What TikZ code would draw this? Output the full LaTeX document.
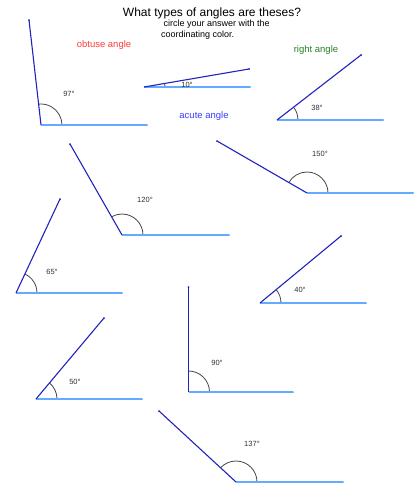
\documentclass[tikz,border=0pt]{standalone}
\usepackage{fontspec}
\setmainfont{Liberation Sans}
\definecolor{rayc}{RGB}{35,35,190}
\definecolor{basec}{RGB}{100,170,255}
\definecolor{arcc}{RGB}{70,70,70}
\definecolor{obtc}{RGB}{255,60,60}
\definecolor{acuc}{RGB}{60,60,255}
\definecolor{rigc}{RGB}{40,130,40}
\definecolor{labc}{RGB}{50,50,50}
\begin{document}
\begin{tikzpicture}[x=1pt,y=-1pt,
  rayline/.style={draw=rayc,line width=1.1pt},
  baseline/.style={draw=basec,line width=1.3pt},
  anglearc/.style={draw=arcc,line width=0.8pt},
  endmark/.style={circle,fill=#1,inner sep=0pt,minimum size=2pt},
  deglabel/.style={font=\fontsize{7.5}{9}\selectfont,text=labc,inner sep=0pt},
  kindlabel/.style={font=\fontsize{9.5}{11}\selectfont,inner sep=0pt}]
\useasboundingbox[fill=white] (0,0) rectangle (420,498);

\node[font=\fontsize{12}{14}\selectfont,inner sep=0pt] (title) at (212,13) {What types of angles are theses?};
\node[font=\fontsize{9}{11}\selectfont,inner sep=0pt,align=left,anchor=west] (sub) at (161,29.5) {\ circle your answer with the\\coordinating color.};
\node[kindlabel,text=obtc] (obt) at (104,45) {obtuse angle};
\node[kindlabel,text=acuc] (acu) at (204,116) {acute angle};
\node[kindlabel,text=rigc] (rig) at (316,50) {right angle};

\foreach \n/\vx/\vy/\bx/\rx/\ry/\ang/\lx/\ly in {
  a/41/125/147/29/20/97/69/94,
  b/144/87/250/249/69/10/187/85,
  c/277/120/383/361/55/38/317/108,
  d/307/193/413/217/141/150/320/154,
  e/122/235/229/70/144/120/145/200,
  f/16/293/122/60/199/65/52/272,
  g/260/303/366/341/236/40/300/290,
  h/188.5/392/293/188.5/287/90/217/363,
  i/36/399/142/104/318/50/75/382,
  j/236/482/343/159/411/137/252/444}
{
  \coordinate (v\n) at (\vx,\vy);
  \coordinate (b\n) at (\bx,\vy);
  \coordinate (r\n) at (\rx,\ry);
  \draw[anglearc] ([xshift=21pt]v\n) arc[start angle=0,end angle=-\ang,radius=21];
  \draw[baseline] (v\n) -- (b\n);
  \draw[rayline] (v\n) -- (r\n);
  \node[endmark=basec] at (b\n) {};
  \node[endmark=rayc] at (r\n) {};
  \node[deglabel] (l\n) at (\lx,\ly) {\ang°};
}
\end{tikzpicture}
\end{document}
